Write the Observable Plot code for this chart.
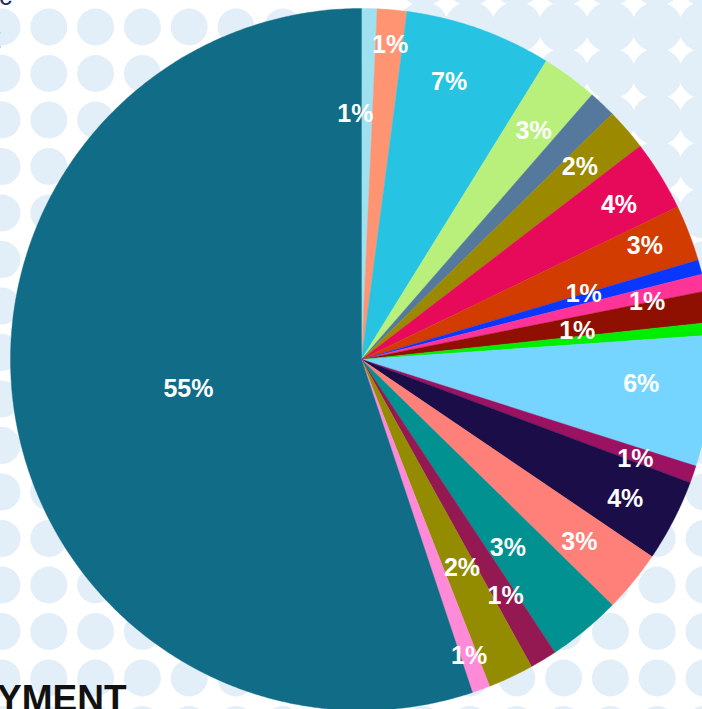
<!DOCTYPE html>
<html>
<head>
<meta charset="utf-8">
<script src="https://cdn.jsdelivr.net/npm/d3@7"></script>
<script src="https://cdn.jsdelivr.net/npm/@observablehq/plot@0.6"></script>
<style>
  html, body { margin: 0; padding: 0; background: #ffffff; overflow: hidden; }
  #wrap { position: relative; width: 702px; height: 709px; overflow: hidden; background: #ffffff; }
  #bg, #chart { position: absolute; left: 0; top: 0; }
</style>
</head>
<body>
<div id="wrap">
  <svg id="bg" width="702" height="709"></svg>
  <div id="chart"></div>
</div>
<script>
// ---- data (clockwise from 12 o'clock) ----
const categories = [
  "Slice 1", "Slice 2", "Slice 3", "Slice 4", "Slice 5", "Slice 6", "Slice 7",
  "Slice 8", "Slice 9", "Slice 10", "Slice 11", "Slice 12", "Slice 13", "Slice 14",
  "Slice 15", "Slice 16", "Slice 17", "Slice 18", "Slice 19", "Slice 20", "Slice 21"
];
const values = [
  0.71, 1.36, 6.75, 2.58, 1.26, 1.94, 3.24,
  2.59, 0.66, 0.78, 1.44, 0.58, 6.02, 0.80,
  3.78, 2.84, 3.38, 1.24, 2.10, 0.83, 55.12
];
const labels = [
  "1%", "1%", "7%", "3%", "", "2%", "4%",
  "3%", "1%", "1%", "1%", "", "6%", "1%",
  "4%", "3%", "3%", "1%", "2%", "1%", "55%"
];
const colors = [
  "#a0e1ef", "#ff9472", "#26c4e2", "#b9f07c", "#55799d", "#9b8a00", "#e80a5a",
  "#d23c00", "#0a37ff", "#ff3398", "#8f1000", "#00ee00", "#76d5ff", "#9b1262",
  "#1b0d48", "#ff8078", "#019191", "#941852", "#948c00", "#ff8ad8", "#106c87"
];

// ---- decorative background (halftone dots) ----
const bg = d3.select("#bg");
const sx = 46.8, sy = 46.5, ox = 2, oy = -19.5;
for (let j = -1; j < 18; j++) {
  for (let i = -1; i < 17; i++) {
    const cx = ox + i * sx, cy = oy + j * sy;
    const big = cx > 390 && cy < 240;
    bg.append("circle").attr("cx", cx).attr("cy", cy)
      .attr("r", big ? 25.5 : 18.5).attr("fill", "#e3eff8");
  }
}
bg.append("text").attr("x", -1).attr("y", 5)
  .attr("font-family", "Liberation Sans, Arial, sans-serif").attr("font-size", 26)
  .attr("fill", "#1b2f6e").text("c");
bg.append("text").attr("x", -8).attr("y", 48)
  .attr("font-family", "Liberation Sans, Arial, sans-serif").attr("font-size", 30)
  .attr("fill", "#1b2f6e").text("t");
bg.append("text").attr("x", -3).attr("y", 711)
  .attr("font-family", "Liberation Sans, Arial, sans-serif").attr("font-size", 37)
  .attr("font-weight", "bold").attr("fill", "#111111").text("YMENT");

// ---- pie geometry via d3.pie ----
const arcs = d3.pie().sort(null)(values);
const polyPts = [];
arcs.forEach((a, i) => {
  const cat = categories[i];
  polyPts.push({cat, x: 0, y: 0});
  const n = Math.max(4, Math.ceil((a.endAngle - a.startAngle) / (Math.PI / 360)));
  for (let k = 0; k <= n; k++) {
    const t = a.startAngle + (a.endAngle - a.startAngle) * k / n;
    polyPts.push({cat, x: Math.sin(t), y: Math.cos(t)});
  }
  polyPts.push({cat, x: 0, y: 0});
});

// label placement: radius fraction and angular nudge (degrees), per slice
const labelR = [0.70, 0.90, 0.83, 0.815, 0.8, 0.83, 0.855, 0.87, 0.66, 0.83, 0.62, 0.8,
                0.80, 0.83, 0.85, 0.81, 0.68, 0.79, 0.66, 0.90, 0.50];
const labelDA = [-2.7, 0.2, -2.1, 0.6, 0, -0.5, 0.7, -0.8, -1.1, 1.35, 1.1, 0,
                 -1.9, 0.8, 0.5, 0.7, 1.7, -0.1, -0.5, 0, -0.3];
const labelPts = [];
arcs.forEach((a, i) => {
  if (!labels[i]) return;
  const mid = (a.startAngle + a.endAngle) / 2 + labelDA[i] * Math.PI / 180;
  labelPts.push({text: labels[i], x: Math.sin(mid) * labelR[i], y: Math.cos(mid) * labelR[i]});
});

const R = 351, cxp = 361, cyp = 359, W = 702, H = 709;
const chart = Plot.plot({
  width: W, height: H, margin: 0,
  style: {background: "transparent", overflow: "visible"},
  x: {domain: [-cxp / R, (W - cxp) / R], axis: null},
  y: {domain: [-(H - cyp) / R, cyp / R], axis: null},
  color: {type: "ordinal", domain: categories, range: colors},
  marks: [
    Plot.line(polyPts, {x: "x", y: "y", z: "cat", fill: "cat", stroke: "cat", strokeWidth: 0.4, curve: "linear"}),
    Plot.text(labelPts, {x: "x", y: "y", text: "text", fill: "white", fontSize: 25,
      fontWeight: "bold", fontFamily: "Liberation Sans, Arial, sans-serif"})
  ]
});
document.getElementById("chart").appendChild(chart);
</script>
</body>
</html>
